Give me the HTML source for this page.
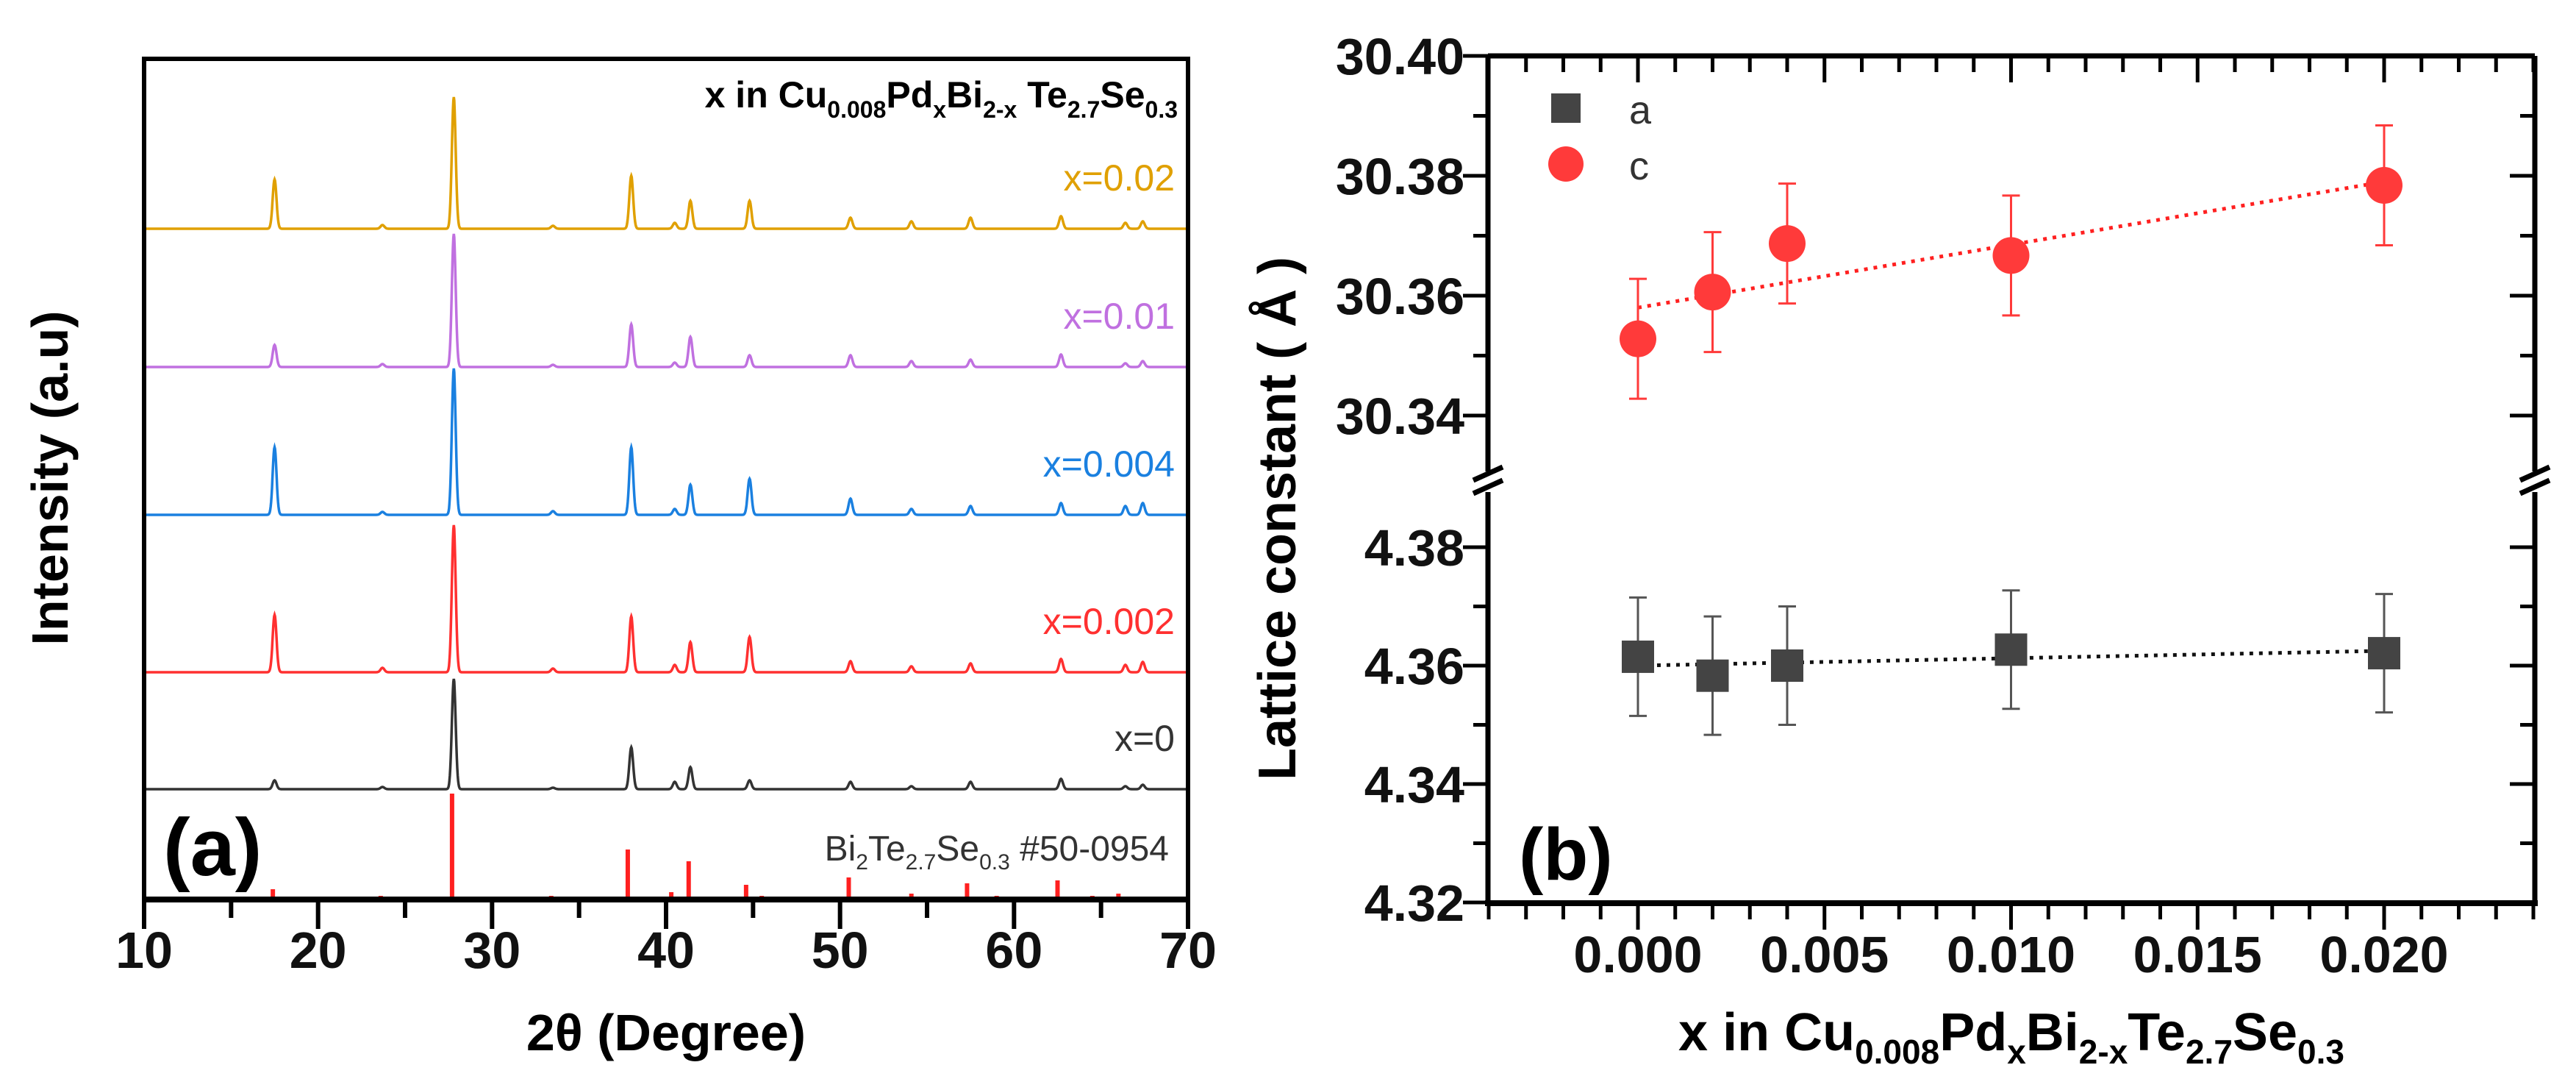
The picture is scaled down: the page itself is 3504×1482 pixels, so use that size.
<!DOCTYPE html>
<html><head><meta charset="utf-8"><style>
html,body{margin:0;padding:0;background:#fff;}
svg{display:block;}
text{font-family:"Liberation Sans",Arial,sans-serif;}
.tk{font-size:70px;font-weight:bold;fill:#111;}
</style></head><body>
<svg id="fig" width="3504" height="1482" viewBox="0 0 3504 1482" xmlns="http://www.w3.org/2000/svg">
<rect width="3504" height="1482" fill="#fff"/>
<g id="pa"></g>
<g id="pb"></g>
</svg>
<script>
// ---------- Panel (a) data ----------
const peakPos = [17.5, 23.7, 27.8, 33.5, 38.0, 40.5, 41.4, 44.8, 50.6, 54.1, 57.5, 62.7, 66.4, 67.4];
const seriesNames = ["x=0.02","x=0.01","x=0.004","x=0.002","x=0"];
const seriesColors = ["#e0a000","#c070e0","#1a80e0","#ff3030","#333333"];
const seriesOffset = [912, 724, 523, 309, 150];
const h002 = [67, 5, 179, 4, 72, 8, 38, 38, 15, 10, 15, 17, 8, 10];
const h001 = [30, 4, 181, 3, 58, 6, 41, 16, 16, 8, 10, 17, 5, 8];
const h0004 = [92, 4, 199, 5, 92, 8, 41, 49, 22, 8, 12, 16, 12, 16];
const h0002 = [78, 6, 200, 5, 76, 10, 41, 48, 15, 8, 12, 18, 10, 14];
const h0 = [12, 3, 150, 2, 57, 10, 30, 12, 10, 4, 10, 14, 4, 6];
const refPos = [17.4, 23.6, 27.7, 33.4, 37.8, 40.3, 41.3, 44.6, 45.5, 50.5, 54.1, 57.3, 59.0, 62.5, 64.5, 66.0];
const refH = [14, 5, 144, 5, 68, 10, 52, 20, 5, 30, 8, 22, 5, 26, 5, 8];
const xTicksA = [10,20,30,40,50,60,70];

// ---------- Panel (b) data ----------
const xVals = [0.000, 0.002, 0.004, 0.010, 0.020];
const cVals = [30.3528, 30.3606, 30.3687, 30.3667, 30.3784];
const cErr = [0.010, 0.010, 0.010, 0.010, 0.010];
const aVals = [4.3615, 4.3583, 4.3600, 4.3627, 4.3621];
const aErr = [0.010, 0.010, 0.010, 0.010, 0.010];
const cFit = [30.358, 30.379];
const aFit = [4.3600, 4.3625];
const xTicksB = [0.000, 0.005, 0.010, 0.015, 0.020];
const yTicksUpper = [30.34, 30.36, 30.38, 30.40];
const yTicksLower = [4.32, 4.34, 4.36, 4.38];

const NS = "http://www.w3.org/2000/svg";
function mk(parent, tag, attrs){const e=document.createElementNS(NS,tag);for(const k in attrs)e.setAttribute(k,attrs[k]);parent.appendChild(e);return e;}

// ===== Panel (a) =====
const pa = document.getElementById('pa');
const AL=196, AR=1616, AT=80, AB=1223;
const xa = d => AL + (d-10)/60*(AR-AL);
const ya = v => AB - v;
const heights = [h002,h001,h0004,h0002,h0];
heights.forEach((hs,si)=>{
  let pts=[];
  for(let d=10.05; d<=69.9; d+=0.025){
    let v=seriesOffset[si];
    for(let k=0;k<peakPos.length;k++){const t=(d-peakPos[k])/0.11;v+=hs[k]*Math.exp(-t*t/2);}
    pts.push(xa(d).toFixed(1)+','+ya(v).toFixed(1));
  }
  const p=mk(pa,'polyline',{points:pts.join(' '),fill:'none',stroke:seriesColors[si],'stroke-width':3.5});
  
  
  const lbl=mk(pa,'text',{x:1598,y:ya(seriesOffset[si]+52),'text-anchor':'end','font-size':50,fill:seriesColors[si]});
  lbl.textContent=seriesNames[si];
  
  
});
refPos.forEach((d,i)=>{
  const l=mk(pa,'line',{x1:xa(d),x2:xa(d),y1:AB,y2:ya(refH[i]),stroke:'#ff2020','stroke-width':6});
  
  
});
mk(pa,'rect',{x:AL,y:AT,width:AR-AL,height:AB-AT,fill:'none',stroke:'#000','stroke-width':6});
mk(pa,'line',{x1:AL-3,x2:AR+3,y1:AB,y2:AB,stroke:'#000','stroke-width':8});
for(let d=10; d<=70; d+=5){
  const major = d%10===0;
  const t=mk(pa,'line',{x1:xa(d),x2:xa(d),y1:AB,y2:AB+(major?40:25),stroke:'#000','stroke-width':6});
  
  
}
xTicksA.forEach(d=>{
  const t=mk(pa,'text',{x:xa(d),y:1316,'text-anchor':'middle',class:'tk'});
  t.textContent=d;
  
  
});
</script>
<script>
(function(){
const pa=document.getElementById('pa');
pa.insertAdjacentHTML('beforeend',
`<text x="906" y="1428" text-anchor="middle" font-size="70" font-weight="bold">2θ (Degree)</text>
<text transform="translate(92,650) rotate(-90)" text-anchor="middle" font-size="70" font-weight="bold">Intensity (a.u)</text>
<text x="222" y="1190" font-size="110" font-weight="bold">(a)</text>
<text x="1602" y="146" text-anchor="end" font-size="50" font-weight="bold">x in Cu<tspan font-size="32" dy="14">0.008</tspan><tspan dy="-14">Pd</tspan><tspan font-size="32" dy="14">x</tspan><tspan dy="-14">Bi</tspan><tspan font-size="32" dy="14">2-x</tspan><tspan dy="-14"> Te</tspan><tspan font-size="32" dy="14">2.7</tspan><tspan dy="-14">Se</tspan><tspan font-size="32" dy="14">0.3</tspan></text>
<text x="1590" y="1170" text-anchor="end" font-size="48" fill="#333">Bi<tspan font-size="30" dy="12">2</tspan><tspan dy="-12">Te</tspan><tspan font-size="30" dy="12">2.7</tspan><tspan dy="-12">Se</tspan><tspan font-size="30" dy="12">0.3</tspan><tspan dy="-12"> #50-0954</tspan></text>`);
})();
</script>
<script>
(function(){
const pb=document.getElementById('pb');
const BL=2024, BR=3448, BT=76, BB=1228, BRK=655;
const xb = x => 2228 + x/0.02*(3243-2228);
const yUp = v => 76 + (30.40 - v)/0.02*163;
const yLo = v => 744 + (4.38 - v)/0.02*161;

let f=mk(pb,'line',{x1:xb(xVals[0]),x2:xb(xVals[xVals.length-1]),y1:yUp(cFit[0]),y2:yUp(cFit[1]),stroke:'#ff2020','stroke-width':5,'stroke-dasharray':'5 8'});


f=mk(pb,'line',{x1:xb(xVals[0]),x2:xb(xVals[xVals.length-1]),y1:yLo(aFit[0]),y2:yLo(aFit[1]),stroke:'#111','stroke-width':5,'stroke-dasharray':'5 8'});



function errbar(x,y1,y2,col,name){
  const g=mk(pb,'g',{stroke:col,'stroke-width':3});
  
  
  mk(g,'line',{x1:x,x2:x,y1:y1,y2:y2});
  mk(g,'line',{x1:x-12,x2:x+12,y1:y1,y2:y1});
  mk(g,'line',{x1:x-12,x2:x+12,y1:y2,y2:y2});
}
xVals.forEach((x,i)=>{
  errbar(xb(x),yUp(cVals[i]+cErr[i]),yUp(cVals[i]-cErr[i]),'#ff3a3a','c-error-bar');
  const c=mk(pb,'circle',{cx:xb(x),cy:yUp(cVals[i]),r:25,fill:'#ff3a3a'});
  
  
  errbar(xb(x),yLo(aVals[i]+aErr[i]),yLo(aVals[i]-aErr[i]),'#555','a-error-bar');
  const s=mk(pb,'rect',{x:xb(x)-22,y:yLo(aVals[i])-22,width:44,height:44,fill:'#444'});
  
  
});

mk(pb,'line',{x1:BL,x2:BR,y1:BT,y2:BT,stroke:'#000','stroke-width':7});
mk(pb,'line',{x1:BL-4,x2:BR+4,y1:BB,y2:BB,stroke:'#000','stroke-width':8});
[BL,BR].forEach(X=>{
  mk(pb,'line',{x1:X,x2:X,y1:BT,y2:BRK-14,stroke:'#000','stroke-width':7});
  mk(pb,'line',{x1:X,x2:X,y1:BRK+14,y2:BB,stroke:'#000','stroke-width':7});
  const br=mk(pb,'g',{stroke:'#000','stroke-width':7});
  
  
  mk(br,'line',{x1:X-20,x2:X+20,y1:BRK-2,y2:BRK-20});
  mk(br,'line',{x1:X-20,x2:X+20,y1:BRK+16,y2:BRK-2});
});
for(let k=-4;k<=24;k++){
  const x=k/1000, X=xb(x), major=(k%5===0);
  if(X<BL-1||X>BR+1) continue;
  let t=mk(pb,'line',{x1:X,x2:X,y1:BB,y2:BB+(major?36:22),stroke:'#000','stroke-width':5});
  
  
  t=mk(pb,'line',{x1:X,x2:X,y1:BT,y2:BT+(major?36:22),stroke:'#000','stroke-width':5});
  
  
}
xTicksB.forEach(x=>{
  const t=mk(pb,'text',{x:xb(x),y:1322,'text-anchor':'middle',class:'tk'});
  t.textContent=x.toFixed(3);
  
  
});
function yticks(vals,fy,lo,hi){
  for(let v=lo; v<=hi+1e-9; v+=0.01){
    const Y=fy(v), major=Math.abs(Math.round(v*100)%2)===0;
    let t=mk(pb,'line',{x1:BL,x2:BL-(major?34:20),y1:Y,y2:Y,stroke:'#000','stroke-width':5});
    
    
    t=mk(pb,'line',{x1:BR,x2:BR-(major?34:20),y1:Y,y2:Y,stroke:'#000','stroke-width':5});
    
    
  }
  vals.forEach(v=>{
    const t=mk(pb,'text',{x:1992,y:fy(v)+25,'text-anchor':'end',class:'tk'});
    t.textContent=v.toFixed(2);
    
    
  });
}
yticks(yTicksUpper,yUp,30.34,30.40);
yticks(yTicksLower,yLo,4.32,4.38);

pb.insertAdjacentHTML('beforeend',
`<g>
<rect x="2110" y="127" width="40" height="40" fill="#444"/>
<text x="2216" y="168" font-size="54" fill="#333">a</text>
<circle cx="2130" cy="223" r="24" fill="#ff3a3a"/>
<text x="2216" y="244" font-size="54" fill="#333">c</text>
</g>
<text x="2066" y="1196" font-size="100" font-weight="bold">(b)</text>
<text transform="translate(1762,705) rotate(-90)" text-anchor="middle" font-size="72" font-weight="bold">Lattice constant ( Å )</text>
<text x="2736" y="1428" text-anchor="middle" font-size="72" font-weight="bold">x in Cu<tspan font-size="46" dy="18">0.008</tspan><tspan dy="-18">Pd</tspan><tspan font-size="46" dy="18">x</tspan><tspan dy="-18">Bi</tspan><tspan font-size="46" dy="18">2-x</tspan><tspan dy="-18">Te</tspan><tspan font-size="46" dy="18">2.7</tspan><tspan dy="-18">Se</tspan><tspan font-size="46" dy="18">0.3</tspan></text>`);
})();
</script>
</body></html>
